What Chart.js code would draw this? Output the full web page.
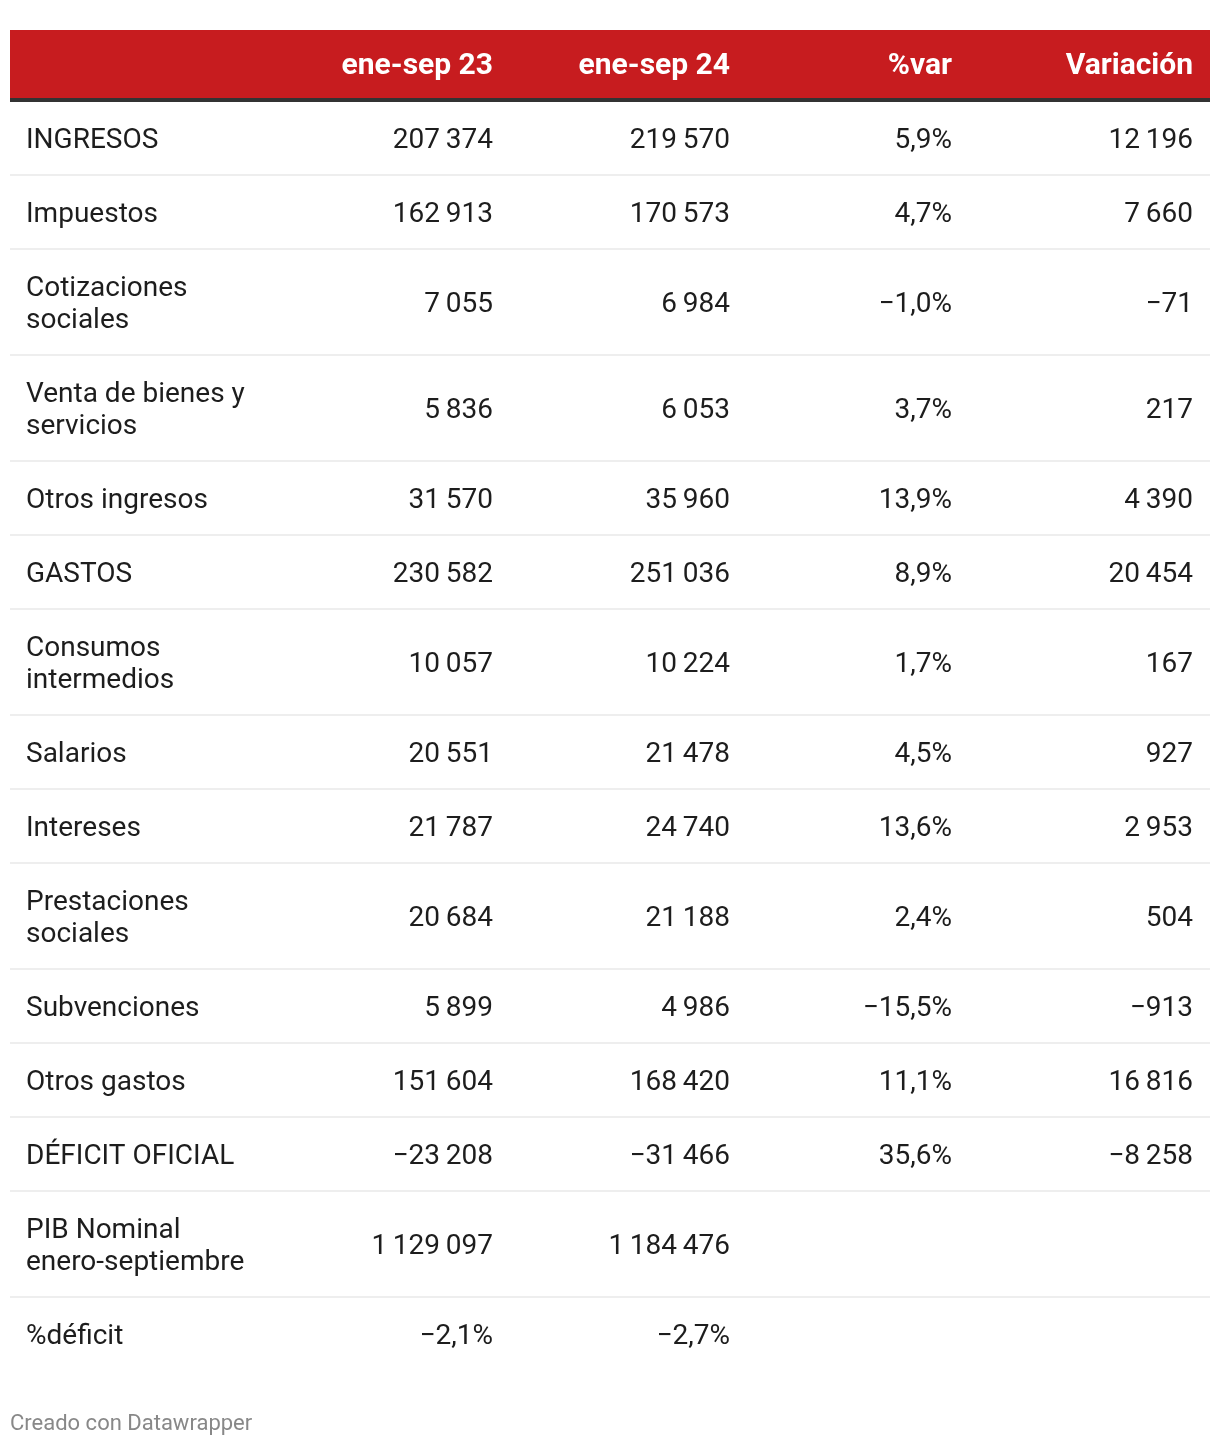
<!DOCTYPE html>
<html>
<head>
<meta charset="utf-8">
<script src="https://cdn.jsdelivr.net/npm/chart.js@4"></script>
<style>
  html, body { margin: 0; padding: 0; background: #fff; }
  canvas { display: block; }
</style>
</head>
<body>
<canvas id="table" width="1220" height="1446"></canvas>
<script>
// ── Data ─────────────────────────────────────────────────────────────────────
const headers = ['', 'ene-sep 23', 'ene-sep 24', '%var', 'Variación'];

const rowLabels = [
  ['INGRESOS'],
  ['Impuestos'],
  ['Cotizaciones', 'sociales'],
  ['Venta de bienes y', 'servicios'],
  ['Otros ingresos'],
  ['GASTOS'],
  ['Consumos', 'intermedios'],
  ['Salarios'],
  ['Intereses'],
  ['Prestaciones', 'sociales'],
  ['Subvenciones'],
  ['Otros gastos'],
  ['DÉFICIT OFICIAL'],
  ['PIB Nominal', 'enero-septiembre'],
  ['%déficit']
];

const eneSep23  = [207374, 162913, 7055, 5836, 31570, 230582, 10057, 20551, 21787, 20684, 5899, 151604, -23208, 1129097, -2.1];
const eneSep24  = [219570, 170573, 6984, 6053, 35960, 251036, 10224, 21478, 24740, 21188, 4986, 168420, -31466, 1184476, -2.7];
const pctVar    = [5.9, 4.7, -1.0, 3.7, 13.9, 8.9, 1.7, 4.5, 13.6, 2.4, -15.5, 11.1, 35.6, null, null];
const variacion = [12196, 7660, -71, 217, 4390, 20454, 167, 927, 2953, 504, -913, 16816, -8258, null, null];

// the last row holds percentages in the value columns
const percentRows = [14];

const footer = 'Creado con Datawrapper';

// ── Formatting ───────────────────────────────────────────────────────────────
const THIN = '\u2009';
const MINUS = '\u2212';

function fmtInt(v) {
  if (v == null) return '';
  const s = String(Math.abs(Math.round(v))).replace(/\B(?=(\d{3})+(?!\d))/g, THIN);
  return (v < 0 ? MINUS : '') + s;
}

function fmtPct(v) {
  if (v == null) return '';
  const s = Math.abs(v).toFixed(1).replace('.', ',');
  return (v < 0 ? MINUS : '') + s + '%';
}

// ── Layout ───────────────────────────────────────────────────────────────────
const W = 1220, H = 1446;
const tableLeft = 10, tableRight = 1210;
const headTop = 30, headBottom = 98, headRule = 4;
const lineH = 32, rowPad = 21;
const colRight = [null, 493, 730, 952, 1193];
const labelX = 26;
const textNudge = 2;   // canvas 'middle' sits a touch above the glyph centre
const FONT = 'Roboto, "Noto Sans", sans-serif';

function rowHeight(i) { return rowLabels[i].length * lineH + rowPad * 2; }

const tablePlugin = {
  id: 'tablePlugin',
  afterDraw(chart) {
    const { ctx, scales: { x, y } } = chart;
    const px = v => x.getPixelForValue(v);
    const py = v => y.getPixelForValue(v);

    ctx.save();

    // header band
    ctx.fillStyle = '#c71c1f';
    ctx.fillRect(px(tableLeft), py(headTop), px(tableRight) - px(tableLeft), py(headBottom) - py(headTop));
    ctx.fillStyle = '#333333';
    ctx.fillRect(px(tableLeft), py(headBottom), px(tableRight) - px(tableLeft), py(headBottom + headRule) - py(headBottom));

    ctx.fillStyle = '#ffffff';
    ctx.font = 'bold 30px ' + FONT;
    ctx.textBaseline = 'middle';
    ctx.textAlign = 'right';
    const headMid = (headTop + headBottom) / 2 + textNudge;
    for (let c = 1; c < headers.length; c++) {
      ctx.fillText(headers[c], px(colRight[c]), py(headMid));
    }

    // body rows
    let top = headBottom + headRule;
    ctx.font = '28px ' + FONT;
    for (let i = 0; i < rowLabels.length; i++) {
      const h = rowHeight(i);
      const mid = top + h / 2 + textNudge;

      ctx.fillStyle = '#1d1d1d';
      ctx.textAlign = 'left';
      const lines = rowLabels[i];
      lines.forEach((ln, k) => {
        const ly = mid + (k - (lines.length - 1) / 2) * lineH;
        ctx.fillText(ln, px(labelX), py(ly));
      });

      const isPct = percentRows.includes(i);
      const cells = [
        isPct ? fmtPct(eneSep23[i]) : fmtInt(eneSep23[i]),
        isPct ? fmtPct(eneSep24[i]) : fmtInt(eneSep24[i]),
        fmtPct(pctVar[i]),
        fmtInt(variacion[i])
      ];
      ctx.textAlign = 'right';
      cells.forEach((t, c) => {
        if (t) ctx.fillText(t, px(colRight[c + 1]), py(mid));
      });

      top += h;
      if (i < rowLabels.length - 1) {
        ctx.fillStyle = '#eeeeee';
        ctx.fillRect(px(tableLeft), py(top - 2), px(tableRight) - px(tableLeft), py(top) - py(top - 2));
      }
    }

    // footer
    ctx.fillStyle = '#888888';
    ctx.textAlign = 'left';
    ctx.font = '22px ' + FONT;
    ctx.fillText(footer, px(tableLeft), py(1422 + textNudge));

    ctx.restore();
  }
};

new Chart(document.getElementById('table'), {
  type: 'scatter',
  data: { datasets: [] },
  options: {
    responsive: false,
    animation: false,
    layout: { padding: 0 },
    plugins: { legend: { display: false }, tooltip: { enabled: false } },
    scales: {
      x: { type: 'linear', min: 0, max: W, display: false },
      y: { type: 'linear', min: 0, max: H, reverse: true, display: false }
    }
  },
  plugins: [tablePlugin]
});
</script>
</body>
</html>
